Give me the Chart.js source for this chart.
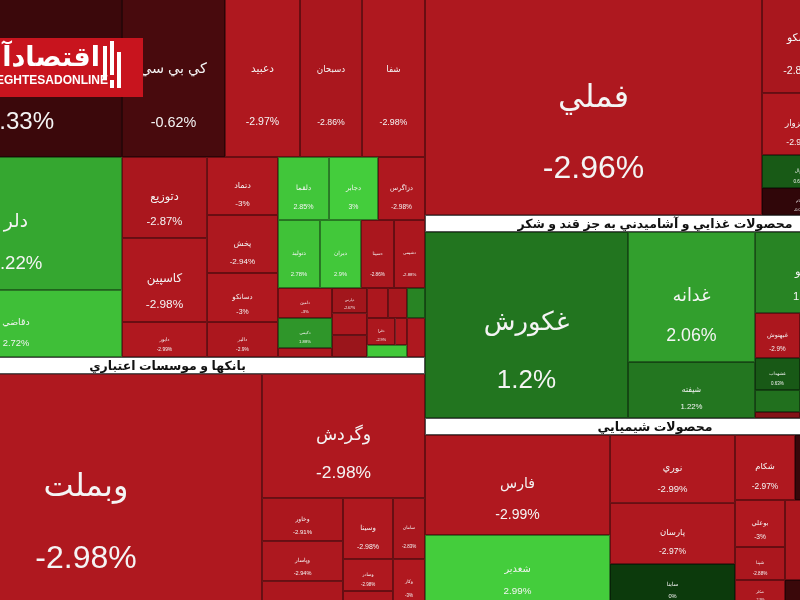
<!DOCTYPE html>
<html>
<head>
<meta charset="utf-8">
<script src="https://cdn.jsdelivr.net/npm/chart.js@4.4.0/dist/chart.umd.min.js"></script>
<style>
  html, body { margin: 0; padding: 0; background: #fff; overflow: hidden; }
  canvas { display: block; }
</style>
</head>
<body>
<canvas id="map" width="800" height="600"></canvas>
<script>
// ---- data: one set of arrays per industry group ----
const pharmaNames = ['دفارا', 'كي بي سي', 'دعبيد', 'دسبحان', 'شفا', 'دلر', 'دقاضي', 'دتوزيع', 'كاسپين', 'دابور',
  'دتماد', 'پخش', 'دسانكو', 'دالبر', 'دلقما', 'دجابر', 'دزاگرس', 'دتوليد', 'ديران', 'دسينا', 'دشيمي',
  'دامين', 'دكيمي', 'دكوثر', 'دپارس', 'دسبحا', 'داسوه', 'درازك', 'دكپسول', 'دفرا', 'درازي', 'دبالك', 'دتيام', 'دشيري'];
const pharmaChanges = [-0.33, -0.62, -2.97, -2.86, -2.98, 2.22, 2.72, -2.87, -2.98, -2.99,
  -3, -2.94, -3, -2.9, 2.85, 3, -2.98, 2.78, 2.9, -2.86, -2.88,
  -3, 1.88, -2.9, -2.67, -2.9, -2.5, -2.9, -2.8, -2.9, -3, 2.9, 1.5, -2.95];
const pharmaValues = [3646, 1772, 1290, 1066, 1084, 2820, 1420, 689, 714, 298,
  412, 412, 348, 249, 321, 309, 296, 286, 279, 224, 211,
  162, 162, 49, 88, 77, 77, 63, 57, 76, 32, 48, 54, 70];

const bankNames = ['وبملت', 'وگردش', 'وخاور', 'وپاسار', 'وپارس', 'وسينا', 'وصادر', 'ونوين', 'سامان', 'وكار'];
const bankChanges = [-2.98, -2.98, -2.91, -2.94, -2.9, -2.98, -2.98, -2.9, -2.83, -3];
const bankValues = [8131, 2021, 348, 324, 194, 305, 160, 70, 195, 147];

const metalNames = ['فملي', 'فسكو', 'فسبزوار', 'فنوال', 'فجام', 'كاوه', 'فولاژ'];
const metalChanges = [-2.96, -2.85, -2.99, 0.65, -0.08, -2.9, -2.95];
const metalValues = [7751, 821, 471, 251, 205, 611, 470];

const foodNames = ['غكورش', 'غدانه', 'شيفته', 'غپينو', 'غسالم', 'غبهنوش', 'غشهداب', 'غمينو', 'غزر', 'غشاذر', 'غچين'];
const foodChanges = [1.2, 2.06, 1.22, 1.5, 0.8, -2.9, 0.63, 1.1, -2, -2.5, 0.5];
const foodValues = [3776, 1651, 711, 826, 227, 203, 144, 99, 27, 510, 383];

const chemNames = ['فارس', 'شغدير', 'نوري', 'پارسان', 'ساينا', 'شكام', 'شپترو', 'بوعلي', 'شپنا', 'شكلر', 'شبندر', 'شاراك'];
const chemChanges = [-2.99, 2.99, -2.99, -2.97, 0, -2.97, -0.2, -3, -2.88, -2.9, -2.9, -0.3];
const chemValues = [1850, 1295, 850, 763, 513, 390, 585, 235, 165, 125, 800, 250];

const groupTitles = {
  pharma: 'مواد و محصولات دارويي',
  bank: 'بانكها و موسسات اعتباري',
  metal: 'فلزات اساسي',
  food: 'محصولات غذايي و آشاميدني به جز قند و شكر',
  chem: 'محصولات شيميايي'
};

// nesting of the tiles ('h' = side by side, 'v' = stacked), leaves are indices
const pharmaLayout = ['v', ['h', 0, 1, 2, 3, 4],
  ['h', ['v', 5, 6], ['v', 7, 8, 9], ['v', 10, 11, 12, 13],
    ['v', ['h', 14, 15, 16], ['h', 17, 18, 19, 20],
      ['h', ['v', 21, 22, 23], ['v', 24, 25, 26], ['v', ['h', 27, 28], ['h', 29, 30], 31], ['v', 32, 33]]]]];
const bankLayout = ['h', 0, ['v', 1, ['h', ['v', 2, 3, 4], ['v', 5, 6, 7], ['v', 8, 9]]]];
const metalLayout = ['h', 0, ['v', 1, 2, 3, 4], ['v', 5, 6]];
const foodLayout = ['h', 0, ['v', 1, 2], ['v', ['h', 3, 4], ['h', ['v', 5, 6, 7, 8], ['v', 9, 10]]]];
const chemLayout = ['h', ['v', 0, 1], ['v', 2, 3, 4], ['v', ['h', 5, 6], ['h', ['v', 7, 8, 9], ['v', 10, 11]]]];
const marketLayout = ['h', ['v', 'pharma', 'bank'], ['v', 'metal', 'food', 'chem']];

// the whole map is 975 x 637 units; the picture only shows a window of it
const MAP_W = 975, MAP_H = 637, HEADER = 17;
const viewX = [90, 890], viewY = [32, 632];

const groups = {
  pharma: { names: pharmaNames, changes: pharmaChanges, values: pharmaValues, layout: pharmaLayout },
  bank: { names: bankNames, changes: bankChanges, values: bankValues, layout: bankLayout },
  metal: { names: metalNames, changes: metalChanges, values: metalValues, layout: metalLayout },
  food: { names: foodNames, changes: foodChanges, values: foodValues, layout: foodLayout },
  chem: { names: chemNames, changes: chemChanges, values: chemValues, layout: chemLayout }
};

/* ===== TREEMAP LAYOUT ===== */
function build(node, g) {
  if (typeof node === 'number') return { leaf: true, g, i: node };
  if (typeof node === 'string') {
    const grp = groups[node];
    return { key: node, dir: 'v', kids: [build(grp.layout, grp)], w: 0 };
  }
  return { dir: node[0], kids: node.slice(1).map(k => build(k, g)) };
}

let areaPerValue = 1;
function weight(n) {
  if (n.leaf) return n.g.values[n.i];
  let s = n.kids.reduce((a, k) => a + weight(k), 0);
  if (n.key) s += HEADER * n.w / areaPerValue; // header strip takes area too
  return s;
}

const tiles = [], headers = [];
function place(n, x, y, w, h) {
  if (n.leaf) { tiles.push({ x, y, w, h, name: n.g.names[n.i], change: n.g.changes[n.i] }); return; }
  if (n.key) {
    n.w = w;
    headers.push({ x, y, w, h: HEADER, title: groupTitles[n.key] });
    y += HEADER; h -= HEADER;
  }
  const total = n.kids.reduce((a, k) => a + weight(k), 0);
  let off = 0;
  n.kids.forEach(k => {
    const f = weight(k) / total;
    if (n.dir === 'h') place(k, x + off * w, y, f * w, h);
    else place(k, x, y + off * h, w, f * h);
    off += f;
  });
}

const root = build(marketLayout, null);
const totalValue = Object.values(groups).reduce((a, g) => a + g.values.reduce((s, v) => s + v, 0), 0);
for (let it = 0; it < 10; it++) {
  const hdrArea = headers.reduce((a, hd) => a + hd.w * HEADER, 0);
  areaPerValue = (MAP_W * MAP_H - hdrArea) / totalValue;
  tiles.length = 0; headers.length = 0;
  place(root, 0, 0, MAP_W, MAP_H);
}

function mix(a, b, t) {
  return `rgb(${a.map((v, i) => Math.round(v + (b[i] - v) * t)).join(',')})`;
}
function tileColor(c) {
  const t = Math.min(Math.abs(c) / 3, 1);
  return c < 0 ? mix([45, 6, 8], [176, 24, 31], t) : mix([12, 58, 12], [68, 205, 60], t);
}

const FONT = '"Liberation Sans", "DejaVu Sans", sans-serif';

/* ===== PLUGINS ===== */
const treemapPlugin = {
  id: 'treemap',
  beforeDatasetsDraw(chart) {
    const xs = chart.scales.x, ys = chart.scales.y, ctx = chart.ctx;
    const a = chart.chartArea;
    ctx.save();
    ctx.beginPath();
    ctx.rect(a.left, a.top, a.right - a.left, a.bottom - a.top);
    ctx.clip();
    ctx.textAlign = 'center';
    ctx.textBaseline = 'middle';

    tiles.forEach(t => {
      const x0 = xs.getPixelForValue(t.x), x1 = xs.getPixelForValue(t.x + t.w);
      const y0 = ys.getPixelForValue(t.y), y1 = ys.getPixelForValue(t.y + t.h);
      const pw = x1 - x0, ph = y1 - y0;
      ctx.fillStyle = tileColor(t.change);
      ctx.fillRect(x0, y0, pw, ph);
      ctx.strokeStyle = 'rgba(0,0,0,0.4)';
      ctx.lineWidth = 1;
      ctx.strokeRect(Math.round(x0) + 0.5, Math.round(y0) + 0.5, Math.round(pw) - 1, Math.round(ph) - 1);

      const fs = Math.min(Math.min(pw, ph) * 0.14, 32);
      if (fs < 3.5) return;
      const cx = x0 + pw / 2, cy = y0 + ph / 2;
      ctx.fillStyle = '#f4f4f4';
      ctx.font = `${fs.toFixed(1)}px ${FONT}`;
      ctx.fillText(t.name, cx, cy - ph * 0.01);
      ctx.fillText(`${t.change}%`, cx, cy + ph * 0.3);
    });

    headers.forEach(hd => {
      const x0 = xs.getPixelForValue(hd.x), x1 = xs.getPixelForValue(hd.x + hd.w);
      const y0 = ys.getPixelForValue(hd.y), y1 = ys.getPixelForValue(hd.y + hd.h);
      ctx.fillStyle = '#ffffff';
      ctx.fillRect(x0, y0, x1 - x0, y1 - y0);
      ctx.strokeStyle = '#555';
      ctx.lineWidth = 1;
      ctx.strokeRect(Math.round(x0) + 0.5, Math.round(y0) + 0.5, Math.round(x1 - x0) - 1, Math.round(y1 - y0) - 1);
      ctx.fillStyle = '#111';
      ctx.font = `bold 12.5px ${FONT}`;
      ctx.fillText(hd.title, (x0 + x1) / 2, (y0 + y1) / 2 + 1);
    });
    ctx.restore();
  }
};

const logoPlugin = {
  id: 'logo',
  afterDraw(chart) {
    const ctx = chart.ctx;
    ctx.save();
    ctx.fillStyle = '#c8141e';
    ctx.fillRect(0, 38, 143, 59);
    ctx.fillStyle = '#fff';
    ctx.textAlign = 'right';
    ctx.textBaseline = 'alphabetic';
    ctx.font = `bold 27px ${FONT}`;
    ctx.fillText('اقتصادآنلاين', 100, 66);
    ctx.font = `bold 12px ${FONT}`;
    ctx.fillText('EGHTESADONLINE', 108, 84);
    ctx.fillRect(103, 46, 4, 34);
    ctx.fillRect(110, 41, 4, 34);
    ctx.fillRect(117, 52, 4, 36);
    ctx.fillRect(110, 80, 4, 8);
    ctx.restore();
  }
};

new Chart(document.getElementById('map'), {
  type: 'scatter',
  data: {
    datasets: [{
      data: tiles.map(t => ({ x: t.x + t.w / 2, y: t.y + t.h / 2 })),
      pointRadius: 0
    }]
  },
  options: {
    responsive: false,
    animation: false,
    events: [],
    layout: { padding: 0 },
    scales: {
      x: { type: 'linear', min: viewX[0], max: viewX[1], display: false },
      y: { type: 'linear', min: viewY[0], max: viewY[1], reverse: true, display: false }
    },
    plugins: { legend: { display: false }, tooltip: { enabled: false } }
  },
  plugins: [treemapPlugin, logoPlugin]
});
</script>
</body>
</html>
